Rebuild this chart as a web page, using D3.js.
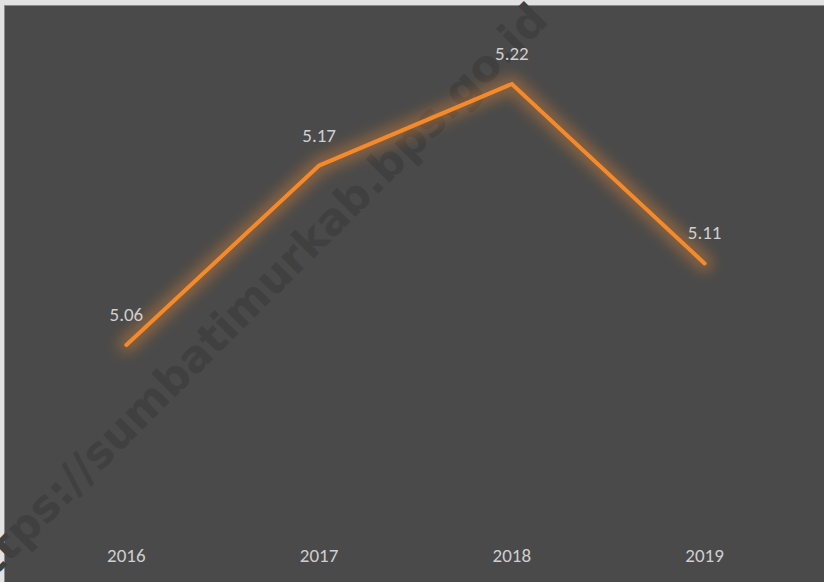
<!DOCTYPE html>
<html>
<head>
<meta charset="utf-8">
<script src="https://cdn.jsdelivr.net/npm/d3@7"></script>
<style>
  html, body { margin: 0; padding: 0; background: #e2e2e2; }
  svg { display: block; }
</style>
</head>
<body>
<div id="chart"></div>
<script>
// data
var years = ["2016", "2017", "2018", "2019"];
var values = [5.06, 5.17, 5.22, 5.11];
var watermark = "https://sumbatimurkab.bps.go.id";

var W = 824, H = 582;
var frame = {left: 5, top: 6};

var svg = d3.select("#chart")
  .append("svg")
    .attr("width", W)
    .attr("height", H);

// outer light frame + thin dark edge, then dark plot background
svg.append("rect")
  .attr("x", 0).attr("y", 0).attr("width", W).attr("height", H)
  .attr("fill", "#e2e2e2");
svg.append("rect")
  .attr("x", frame.left - 1).attr("y", frame.top - 1)
  .attr("width", W).attr("height", H)
  .attr("fill", "#8a8a8a");
svg.append("rect")
  .attr("x", frame.left).attr("y", frame.top)
  .attr("width", W).attr("height", H)
  .attr("fill", "#4a4a4a");

// watermark
svg.append("text")
  .attr("transform", "translate(550,22) rotate(-45)")
  .attr("text-anchor", "end")
  .attr("font-family", "'DejaVu Sans', sans-serif")
  .attr("font-weight", "bold")
  .attr("font-size", 44)
  .attr("fill", "#404040")
  .text(watermark);

// scales
var x = d3.scaleBand()
  .domain(years)
  .range([30, 801]);

var y = d3.scaleLinear()
  .domain([5.06, 5.22])
  .range([345, 84]);

var cx = function(d) { return x(d) + x.bandwidth() / 2; };

// glow filter
var defs = svg.append("defs");
var glow = defs.append("filter")
  .attr("id", "glow")
  .attr("x", "-20%").attr("y", "-20%")
  .attr("width", "140%").attr("height", "140%");
glow.append("feGaussianBlur").attr("stdDeviation", 7);

var pts = years.map(function(d, i) { return [cx(d), y(values[i])]; });
var line = d3.line();

svg.append("path")
  .attr("d", line(pts))
  .attr("fill", "none")
  .attr("stroke", "#f28a2c")
  .attr("stroke-width", 16)
  .attr("stroke-opacity", 0.4)
  .attr("stroke-linejoin", "round")
  .attr("stroke-linecap", "round")
  .attr("filter", "url(#glow)");

svg.append("path")
  .attr("d", line(pts))
  .attr("fill", "none")
  .attr("stroke", "#f58a2c")
  .attr("stroke-width", 4)
  .attr("stroke-linejoin", "miter")
  .attr("stroke-linecap", "round");

// value labels
svg.append("g")
  .selectAll("text")
  .data(years)
  .enter().append("text")
    .attr("x", function(d) { return cx(d); })
    .attr("y", function(d, i) { return y(values[i]) - 24; })
    .attr("text-anchor", "middle")
    .attr("font-family", "Carlito, Lato, sans-serif")
    .attr("font-size", 19)
    .attr("fill", "#cfcfcf")
    .text(function(d, i) { return values[i].toFixed(2); });

// x axis
var xAxis = svg.append("g")
  .attr("transform", "translate(0,544)")
  .call(d3.axisBottom(x).tickSize(0).tickPadding(4));
xAxis.select(".domain").remove();
xAxis.selectAll("text")
  .attr("font-family", "Carlito, Lato, sans-serif")
  .attr("font-size", 19)
  .attr("fill", "#cfcfcf");
</script>
</body>
</html>
